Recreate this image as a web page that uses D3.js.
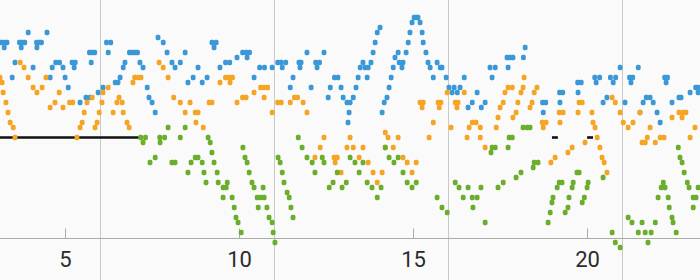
<!DOCTYPE html>
<html><head><meta charset="utf-8">
<script src="https://cdn.jsdelivr.net/npm/d3@7"></script>
<style>html,body{margin:0;padding:0;background:#fafafa;}svg{display:block;}</style>
</head><body>
<svg id="c" width="700" height="280"></svg>
<script>
const tickValues=[5,10,15,20];
const gridValues=[6,11,16,21];
const blackSegments=[[3.0,7.14],[18.97,19.14],[19.98,20.15]];
const blueSeries=[
[3.14,19],[3.23,19],[3.31,19],[3.23,18],[3.67,19],[3.74,19],[3.82,19],[3.72,18],[3.92,21],
[4.16,19],[4.23,19],[4.30,19],[4.17,18],[4.46,21],[6.17,19],[6.29,19],[5.68,17],[5.76,17],[5.83,17],
[6.22,17],[6.83,17],[6.91,17],[6.98,17],[7.06,17],[7.65,20],[7.80,19],[7.91,17],
[3.54,15],[4.71,15],[4.82,15],[5.18,15],[5.27,15],[5.73,15],[6.70,15],[7.13,15],[8.05,15],
[4.06,14],[4.61,14],[4.92,14],[5.24,14],[6.65,14],[7.22,14],[3.46,12],[4.55,12],[4.98,12],[6.56,12],
[6.42,11],[6.50,11],[5.07,10],[7.34,10],[6.07,10],[5.93,9],[5.58,8],[5.70,8],[7.39,8],[5.41,7],[7.48,7],[7.57,5],
[9.20,19],[9.32,19],[9.26,18],[8.43,17],[8.29,15],[8.14,14],[8.80,14],[8.66,12],[8.51,11],[8.92,11],[9.06,12],
[9.43,14],[9.59,15],[9.71,15],[9.92,16],[10.08,17],[10.18,17],[10.28,17],[10.21,16],[10.41,12],
[10.57,14],[10.71,14],[10.93,14],[11.09,15],[11.19,15],[11.32,15],[11.22,14],[11.53,12],[11.45,10],
[11.70,15],[11.76,15],[11.73,14],[11.93,17],[12.05,10],[12.18,15],[12.29,15],[12.22,14],[12.42,17],
[12.60,10],[12.72,12],[12.82,12],[12.91,10],[12.54,8],[12.97,8],[13.08,7],[13.14,5],[13.11,3],
[13.17,7],[13.26,8],[13.34,10],[13.40,12],[13.46,14],[13.54,15],[13.60,14],[13.66,12],[13.69,14],[13.77,15],
[13.83,17],[13.89,19],[13.95,21],[14.03,22],[14.09,5],[14.15,7],[14.23,8],[14.29,10],[14.35,12],[14.41,14],
[14.46,16],[14.55,17],[14.58,15],[14.66,14],[14.69,15],[14.78,17],[14.84,19],[14.89,21],[14.95,23],[15.01,24],
[15.07,24],[15.12,24],[15.18,23],[15.24,21],[15.27,19],[15.35,17],[15.41,15],[15.47,14],[15.56,12],[15.67,15],
[15.76,14],[15.81,14],[15.93,12],[16.01,10],[16.10,9],[16.16,10],[16.25,9],[16.33,10],[16.45,12],[16.56,6],
[16.68,7],[16.82,9],[16.94,6],[17.05,7],[17.19,14],[17.25,12],[17.34,14],[17.68,16],[17.77,16],[17.85,16],
[17.71,14],[18.20,18],[18.15,16],
[20.93,14],[21.45,14],[19.71,11],[19.81,11],[20.20,12],[20.34,12],[20.24,11],[20.65,12],[20.80,12],[20.73,11],
[21.20,12],[21.29,12],[21.24,11],[22.21,12],[22.29,12],[22.25,11],[19.19,9],[19.28,9],[19.72,9],
[18.70,7],[18.79,7],[19.20,7],[18.72,5],[20.44,7],[20.55,8],[21.07,7],[21.50,5],[21.59,7],[21.68,8],[21.79,8],[21.88,7],
[21.99,5],[22.08,3],[22.42,7],[22.62,8],[22.68,8],[22.94,9],[23.10,10],[23.17,10],[23.17,9]
];
const orangeSeries=[
[3.11,12],[3.17,11],[3.20,9],[3.28,7],[3.34,5],[3.40,3],[3.49,2],[3.54,0],[3.69,15],[3.80,14],
[3.92,12],[4.06,10],[4.17,9],[4.32,10],[4.43,12],[4.81,9],[4.55,6],[4.69,7],[4.92,6],[5.11,7],[5.20,7],
[5.32,0],[5.41,2],[5.47,3],[5.53,5],[5.61,7],[5.76,8],[5.84,2],[5.90,3],[5.96,5],[6.04,7],[6.07,9],[6.22,10],
[6.36,5],[6.47,7],[6.53,8],[6.62,7],[6.65,5],[6.76,3],[6.82,2],[6.98,12],[7.08,12],[7.16,12],[6.93,11],
[7.68,15],[7.80,14],[7.94,12],[8.10,8],
[8.29,7],[8.57,7],[8.43,5],[8.72,5],[8.80,5],[8.74,3],[8.95,2],[9.12,7],[9.20,7],
[9.43,11],[9.59,12],[9.69,12],[9.79,12],[9.72,11],[9.92,7],[10.08,8],[10.18,8],
[10.41,9],[10.60,10],[10.70,10],[10.80,10],[10.70,8],[10.93,5],[11.09,7],[11.19,7],[11.45,7],[11.57,8],[11.66,8],[11.82,7],
[11.93,5],[12.42,0],
[12.31,-2],[12.16,-4],[12.71,-4],[12.80,-4],[12.74,-5],[12.91,-7],[13.08,-2],
[13.17,0],[14.18,1],[14.26,0],[14.55,0],[15.44,0],[15.18,7],[15.27,7],[15.24,6],[15.70,7],[15.78,7],[15.73,6],
[15.96,9],[16.19,7],[16.27,7],[16.24,6],[16.45,9],[15.56,3],[16.07,2],[16.68,3],[16.79,3],[16.59,2],[16.91,2],
[16.53,0],[16.91,0],[17.37,2],[17.42,4],[17.48,6],[17.57,7],[17.62,9],[17.71,10],[17.83,10],[17.85,4],[17.94,5],
[17.99,7],[18.08,9],[18.14,10],[18.17,12],
[13.26,-2],[13.54,-2],[14.18,-2],[14.41,-2],[13.43,-4],[13.69,-5],[13.83,-7],[14.09,-7],[13.95,-9],[14.69,-4],
[14.81,-5],[15.07,-5],[14.95,-7],[17.05,-2],
[18.54,10],[18.46,9],[18.40,7],[18.34,6],[19.75,7],[19.84,7],[19.72,5],[19.18,5],[19.29,5],[19.20,3],
[18.69,3],[18.80,3],[18.72,2],[20.12,5],[20.15,3],[20.21,2],[20.27,0],[20.70,8],[20.79,7],[20.93,5],[21.50,5],
[21.02,3],[21.16,2],[21.30,3],[21.79,2],[22.42,4],[22.62,5],[22.74,5],[22.82,5],[22.71,4],
[21.71,0],[22.08,0],[22.19,0],[22.94,0],[23.08,2],
[19.92,-1],[19.55,-2],[19.43,-3],[19.06,-4],[18.94,-5],[20.35,-2],[20.41,-4],[20.47,-5],[20.55,-7],
[21.56,-1],[21.65,-1],[21.94,-1]
];
const greenSeries=[
[7.15,0],[7.29,0],[7.70,0],[7.84,0],[7.94,2],[7.22,-1],[7.71,-1],[7.57,-4],[7.42,-5],[8.05,-5],
[8.43,2],[8.29,0],[9.09,0],[11.68,0],[8.14,-5],[9.15,-1],[9.20,-3],[9.26,-5],[9.35,-7],
[8.51,-7],[8.60,-5],[8.72,-4],[8.80,-4],[8.92,-5],[8.97,-7],[9.03,-9],
[9.38,-9],[9.52,-10],[9.61,-10],[9.64,-9],[9.52,-12],[9.78,-12],[9.84,-14],[9.89,-16],[9.95,-17],[10.04,-19],
[10.09,-2],[10.15,-4],[10.21,-5],[10.27,-7],[10.35,-9],[10.41,-10],[10.50,-12],[10.60,-12],[10.70,-12],[10.53,-14],
[10.67,-10],[10.78,-14],[10.84,-16],[10.93,-17],[10.96,-19],[11.01,-21],
[11.10,-4],[11.16,-5],[11.22,-7],[11.27,-9],[11.36,-11],[11.42,-12],[11.47,-14],[11.53,-16],
[11.79,-2],[11.93,-4],[12.08,-5],[12.16,-7],[12.37,-4],[12.42,-5],[12.57,-10],[12.68,-9],[12.94,-10],[13.06,-9],[12.80,-7],
[13.17,-4],[13.31,-5],[13.54,-5],[13.43,-7],[13.66,-9],[13.80,-10],[13.95,-12],[14.06,-10],[14.18,-2],[14.29,-4],
[14.43,-5],[14.55,-4],[14.69,-7],[14.81,-9],[14.95,-10],[15.07,-9],[15.67,-12],[15.81,-14],[15.96,-15],
[16.19,-9],[16.30,-10],[16.56,-10],[16.93,-10],[16.42,-12],[16.68,-12],[16.82,-12],[16.70,-14],[17.05,-17],
[17.25,-2],[17.22,-3],[17.34,-2],[17.71,-2],[17.42,-10],[17.57,-9],[17.94,-8],[18.08,-7],
[17.74,0],[17.83,0],[18.14,2],[18.26,2],[18.34,2],[18.46,-5],[18.57,-5],[18.43,-6],
[19.69,-7],[19.75,-7],[19.18,-9],[19.26,-9],[19.12,-10],[19.00,-12],[18.97,-13],[18.92,-15],[18.86,-17],
[19.58,-9],[19.55,-10],[19.46,-12],[19.43,-14],[19.35,-15],[20.01,-9],[19.98,-10],[19.90,-12],[19.84,-13],
[20.44,-8],[20.70,-19],[20.79,-21],[20.93,-22],[21.16,-16],[21.27,-17],[21.56,-17],[21.94,-17],
[21.45,-19],[21.65,-19],[21.82,-19],[21.73,-21],
[22.02,-12],[22.11,-10],[22.17,-9],[22.22,-10],[22.31,-12],[22.34,-14],[22.42,-16],[22.45,-17],[22.54,-19],
[22.60,-2],[22.65,-4],[22.71,-5],[22.77,-7],[22.86,-9],[22.91,-10],[23.03,-12],[23.11,-12],[23.03,-14],[23.17,-10]
];
const seriesColors={blue:"#3a98d6",orange:"#f5a524",green:"#6aae2c"};

const W=700,H=280;
const svg=d3.select("#c");
const x=d3.scaleLinear().domain([5,20]).range([65.8,587.8]);
const y=d3.scaleLinear().domain([-20,0]).range([237.5,137.5]);

svg.append("rect").attr("width",W).attr("height",H).attr("fill","#fafafa");

svg.append("g").selectAll("line").data(gridValues).join("line")
  .attr("x1",d=>Math.floor(x(d))+0.5).attr("x2",d=>Math.floor(x(d))+0.5)
  .attr("y1",0).attr("y2",H).attr("stroke","#c9c9c9").attr("stroke-width",1);

const axisY=Math.round(y(-20))+0.5;
const axis=d3.axisBottom(x).tickValues(tickValues).tickSizeInner(-10).tickSizeOuter(0).tickPadding(13).tickFormat(d3.format("d"));
const gA=svg.append("g").attr("transform",`translate(0,${axisY})`).call(axis);
gA.select(".domain").remove();
gA.selectAll(".tick").attr("transform",d=>`translate(${Math.floor(x(d))+0.5},0)`);
gA.selectAll(".tick line").attr("stroke","#aaa");
gA.selectAll(".tick text").attr("fill","#2b2b2b").style("font-family","Roboto,'Liberation Sans',Arial,sans-serif").style("font-size","22px");
svg.append("line").attr("x1",0).attr("x2",W).attr("y1",axisY).attr("y2",axisY).attr("stroke","#aaa").attr("stroke-width",1);

svg.append("g").selectAll("line").data(blackSegments).join("line")
  .attr("x1",d=>x(d[0])).attr("x2",d=>x(d[1])).attr("y1",y(0)).attr("y2",y(0))
  .attr("stroke","#111").attr("stroke-width",2.6);

const SW=4.8,SH=5.4;
function dots(data,color){
  svg.append("g").selectAll("rect").data(data).join("rect")
    .attr("x",d=>x(d[0])-SW/2).attr("y",d=>y(d[1])-SH/2)
    .attr("width",SW).attr("height",SH).attr("rx",1.7).attr("fill",color);
}
dots(blueSeries,seriesColors.blue);
dots(orangeSeries,seriesColors.orange);
dots(greenSeries,seriesColors.green);
</script>
</body></html>
